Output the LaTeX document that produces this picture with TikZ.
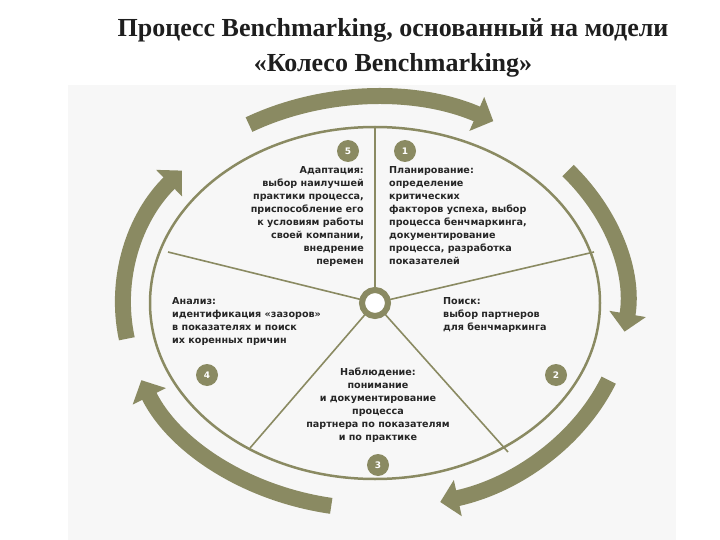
\documentclass[tikz,border=0pt]{standalone}
\usepackage{fontspec}
\setmainfont{Liberation Serif}
\newfontfamily\lab{DejaVu Sans}
\usetikzlibrary{arrows.meta}
\definecolor{olv}{RGB}{138,138,98}
\definecolor{ttl}{RGB}{30,30,30}
\tikzset{
  warrow/.style={line width=16pt,olv,-{Triangle[length=18pt,width=36pt]}},
  numc/.style={circle,fill=olv,minimum size=22pt,inner sep=0pt,text=white,font=\lab\bfseries\fontsize{9}{9}\selectfont},
  txt/.style={font=\lab\bfseries\fontsize{9.6}{13}\selectfont,text=black!85,inner sep=0pt},
  spoke/.style={olv,line width=1.6pt}
}
\begin{document}
\begin{tikzpicture}[x=1pt,y=-1pt]
\useasboundingbox (0,0) rectangle (720,540);
\fill[white] (0,0) rectangle (720,540);
\fill[black!3] (68,85) rectangle (676,540);
\node[font=\bfseries\fontsize{26}{35}\selectfont,text=ttl,align=center] (title) at (393,48)
  {Процесс Benchmarking, основанный на модели\\«Колесо Benchmarking»};
\coordinate (c) at (375,303);
% spokes
\coordinate (r1) at (375,128);
\coordinate (r2) at (594,252);
\coordinate (r3) at (508,452);
\coordinate (r4) at (250,448);
\coordinate (r5) at (168,252);
\foreach \r in {r1,r2,r3,r4,r5} \draw[spoke] (c) -- (\r);
\draw[olv,line width=2.5pt] (c) ellipse[x radius=225,y radius=176];
\node[circle,draw=olv,line width=6pt,fill=white,minimum size=26pt] (hub) at (c) {};
% arrows
\foreach \a/\b in {-120/-62, -40/8, 22/75, 100/158, 170/220}
  \draw[warrow] (c) ++(\a:252 and 206) arc[start angle=\a,end angle=\b,x radius=252,y radius=206];
% numbers
\node[numc] (n5) at (348,151) {5};
\node[numc] (n1) at (405,151) {1};
\node[numc] (n2) at (556,375) {2};
\node[numc] (n3) at (378,465) {3};
\node[numc] (n4) at (207,375) {4};
% texts
\node[txt,align=right,anchor=north east] (t5) at (364,166)
 {Адаптация:\\выбор наилучшей\\практики процесса,\\приспособление его\\к условиям работы\\своей компании,\\внедрение\\перемен};
\node[txt,align=left,anchor=north west] (t1) at (389,166)
 {Планирование:\\определение\\критических\\факторов успеха, выбор\\процесса бенчмаркинга,\\документирование\\процесса, разработка\\показателей};
\node[txt,align=left,anchor=north west] (t2) at (443,297)
 {Поиск:\\выбор партнеров\\для бенчмаркинга};
\node[txt,align=left,anchor=north west] (t4) at (172,297)
 {Анализ:\\идентификация «зазоров»\\в показателях и поиск\\их коренных причин};
\node[txt,align=center,anchor=north] (t3) at (378,368)
 {Наблюдение:\\понимание\\и документирование\\процесса\\партнера по показателям\\и по практике};
\end{tikzpicture}
\end{document}
